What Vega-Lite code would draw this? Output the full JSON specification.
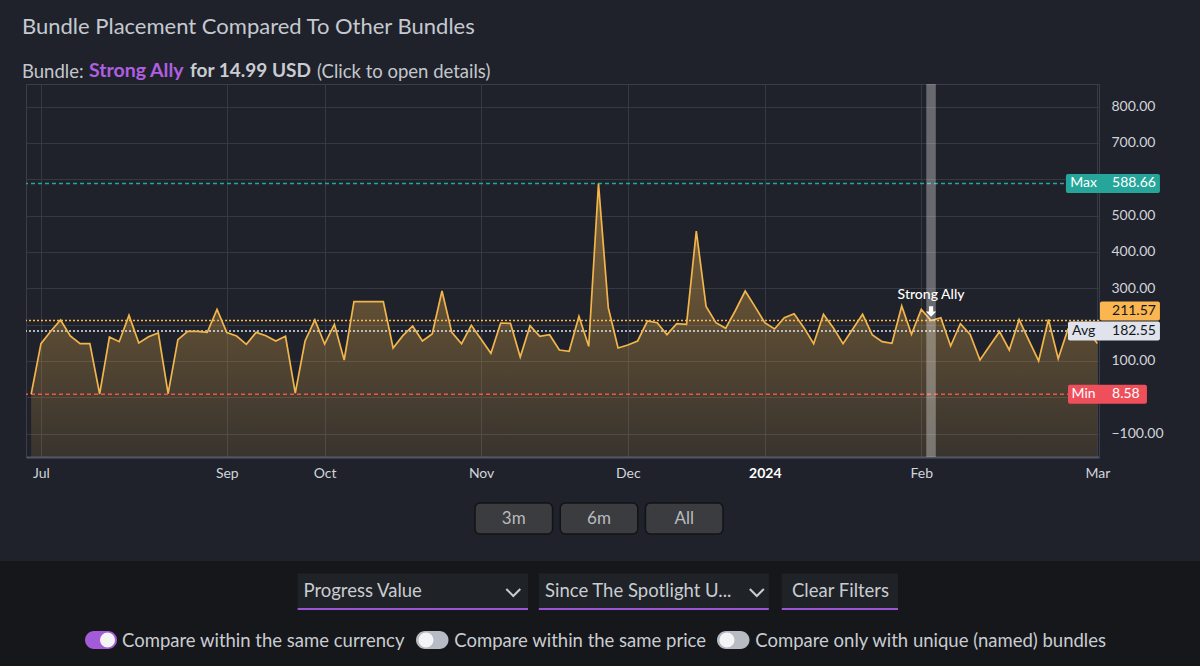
{
  "$schema": "https://vega.github.io/schema/vega-lite/v6.json",
  "background": "#1f222a",
  "padding": {"top": 15, "left": 0, "right": 0, "bottom": 0},
  "spacing": 0,
  "title": {"text": "Bundle Placement Compared To Other Bundles", "anchor": "start", "frame": "bounds", "dx": 22, "fontSize": 22, "fontWeight": "normal", "color": "#c5c9d0", "font": "Lato", "offset": 22},
  "config": {
    "font": "Lato",
    "view": {"stroke": null},
    "axis": {"labelFont": "Lato"},
    "text": {"font": "Lato"}
  },
  "datasets": {
    "series": [
      {"i":0,"v":8.58},{"i":1,"v":147.6},{"i":2,"v":182},{"i":3,"v":212.8},{"i":4,"v":168.7},{"i":5,"v":147.6},{"i":6,"v":147.6},{"i":7,"v":9.2},{"i":8,"v":166},{"i":9,"v":153.1},
      {"i":10,"v":225.6},{"i":11,"v":149.5},{"i":12,"v":166.9},{"i":13,"v":177},{"i":14,"v":10.1},{"i":15,"v":158.6},{"i":16,"v":181.6},{"i":17,"v":181.6},{"i":18,"v":178.8},{"i":19,"v":242.1},
      {"i":20,"v":177.9},{"i":21,"v":168.7},{"i":22,"v":145.8},{"i":23,"v":178.8},{"i":24,"v":169.7},{"i":25,"v":155},{"i":26,"v":167.8},{"i":27,"v":11.5},{"i":28,"v":155},{"i":29,"v":212.8},
      {"i":30,"v":146.7},{"i":31,"v":200.9},{"i":32,"v":102.7},{"i":33,"v":263.2},{"i":34,"v":263.2},{"i":35,"v":263.2},{"i":36,"v":263.2},{"i":37,"v":135.7},{"i":38,"v":169.7},{"i":39,"v":196.3},
      {"i":40,"v":155},{"i":41,"v":174.3},{"i":42,"v":292.6},{"i":43,"v":178.8},{"i":44,"v":147.6},{"i":45,"v":198.1},{"i":46,"v":160},{"i":47,"v":121},{"i":48,"v":204.5},{"i":49,"v":203.6},
      {"i":50,"v":110.9},{"i":51,"v":197.2},{"i":52,"v":167.8},{"i":53,"v":172.4},{"i":54,"v":130.2},{"i":55,"v":126.5},{"i":56,"v":222.9},{"i":57,"v":140.3},{"i":58,"v":588.66},{"i":59,"v":246.7},
      {"i":60,"v":135.7},{"i":61,"v":144},{"i":62,"v":155},{"i":63,"v":210},{"i":64,"v":205.4},{"i":65,"v":172.4},{"i":66,"v":202.7},{"i":67,"v":200.9},{"i":68,"v":457.7},{"i":69,"v":250},
      {"i":70,"v":205.4},{"i":71,"v":189.9},{"i":72,"v":239},{"i":73,"v":292.6},{"i":74,"v":249.5},{"i":75,"v":205.4},{"i":76,"v":188},{"i":77,"v":219.2},{"i":78,"v":230.2},{"i":79,"v":191.7},
      {"i":80,"v":147.6},{"i":81,"v":228.4},{"i":82,"v":191.7},{"i":83,"v":147.6},{"i":84,"v":188},{"i":85,"v":228.4},{"i":86,"v":171.5},{"i":87,"v":153.1},{"i":88,"v":148.5},{"i":89,"v":251.3},
      {"i":90,"v":173.3},{"i":91,"v":242.1},{"i":92,"v":211.57},{"i":93,"v":219.2},{"i":94,"v":141.2},{"i":95,"v":202.7},{"i":96,"v":173.3},{"i":97,"v":102.7},{"i":98,"v":142.1},{"i":99,"v":180.7},
      {"i":100,"v":130.2},{"i":101,"v":213.7},{"i":102,"v":156.8},{"i":103,"v":100},{"i":104,"v":214},{"i":105,"v":106},{"i":106,"v":188},{"i":107,"v":195},{"i":108,"v":185},{"i":109,"v":148}
    ],
    "pl": [
      {"label": "Max", "value": 588.66},
      {"label": "Avg", "value": 182.55},
      {"label": "Min", "value": 8.58},
      {"label": "Strong Ally", "value": 211.57}
    ],
    "marker": [{"i": 92, "v": 211.57, "name": "Strong Ally"}],
    "buttons": [{"b": "3m"}, {"b": "6m"}, {"b": "All"}]
  },
  "vconcat": [
    {
      "spacing": 5,
      "hconcat": [
        {"width": 17, "height": 0, "data": {"values": []}, "mark": "text"},
        {"width": 0, "height": 0, "data": {"values": []}, "mark": "text",
         "title": {"text": "Bundle:", "anchor": "start", "fontSize": 18.5, "fontWeight": "normal", "color": "#c3c7cd", "font": "Lato", "offset": -18}},
        {"width": 0, "height": 0, "data": {"values": []}, "mark": "text",
         "title": {"text": "Strong Ally", "anchor": "start", "fontSize": 19.5, "fontWeight": "bold", "color": "#b05fe0", "font": "Lato", "offset": -18}},
        {"width": 0, "height": 0, "data": {"values": []}, "mark": "text",
         "title": {"text": "for 14.99 USD", "anchor": "start", "fontSize": 19, "fontWeight": "bold", "color": "#c9ccd2", "font": "Lato", "offset": -18}},
        {"width": 0, "height": 0, "data": {"values": []}, "mark": "text",
         "title": {"text": "(Click to open details)", "anchor": "start", "fontSize": 18.5, "fontWeight": "normal", "color": "#c3c7cd", "font": "Lato", "offset": -18}}
      ]
    },
    {
      "spacing": 0,
      "hconcat": [
        {"width": 24, "height": 0, "data": {"values": []}, "mark": "text"},
        {
          "width": 1073,
          "height": 373,
          "view": {"stroke": "#3a3e49"},
          "layer": [
            {
              "data": {"name": "series"},
              "mark": {"type": "area", "color": {"gradient": "linear", "x1": 0, "y1": 0, "x2": 0, "y2": 1, "stops": [{"offset": 0, "color": "rgba(240,178,74,0.46)"}, {"offset": 1, "color": "rgba(240,178,74,0.12)"}]}},
              "encoding": {
                "x": {"field": "i", "type": "quantitative", "scale": {"domain": [-0.53, 109.17], "nice": false, "zero": false},
                  "axis": {"title": null, "values": [1, 20, 30, 46, 61, 75, 91, 109],
                    "labelExpr": "datum.value == 1 ? 'Jul' : datum.value == 20 ? 'Sep' : datum.value == 30 ? 'Oct' : datum.value == 46 ? 'Nov' : datum.value == 61 ? 'Dec' : datum.value == 75 ? '2024' : datum.value == 91 ? 'Feb' : 'Mar'",
                    "grid": true, "gridColor": "#353942", "domain": true, "domainColor": "#50546b", "domainWidth": 2, "ticks": false,
                    "labelPadding": 9, "labelFontSize": 14, "labelFlush": false, "labelOverlap": false,
                    "labelColor": {"condition": {"test": "datum.value == 75", "value": "#ffffff"}, "value": "#d1d4dc"},
                    "labelFontWeight": {"condition": {"test": "datum.value == 75", "value": "bold"}, "value": "normal"},
                    "minExtent": 44, "maxExtent": 44}},
                "y": {"field": "v", "type": "quantitative", "scale": {"domain": [-164.3, 862.4], "nice": false, "zero": false},
                  "axis": {"title": null, "orient": "right", "values": [-100, 0, 100, 200, 300, 400, 500, 600, 700, 800],
                    "labelExpr": "datum.value == 600 || datum.value == 200 || datum.value == 0 ? '' : format(datum.value, '.2f')",
                    "grid": true, "gridColor": "#353942", "domain": false, "ticks": false, "labelPadding": 12,
                    "labelFontSize": 14, "labelColor": "#d1d4dc", "labelAlign": "left", "labelOverlap": false}},
                "y2": {"datum": -164.3}
              }
            },
            {
              "data": {"name": "pl"},
              "mark": {"type": "rule", "strokeWidth": 1.6},
              "encoding": {
                "y": {"field": "value", "type": "quantitative", "scale": {"domain": [-164.3, 862.4], "nice": false, "zero": false}},
                "color": {"field": "label", "type": "nominal", "legend": null, "scale": {"domain": ["Max", "Avg", "Min", "Strong Ally"], "range": ["#26a69a", "#e0e3eb", "#ef5350", "#ffb74d"]}},
                "strokeDash": {"field": "label", "type": "nominal", "legend": null, "scale": {"domain": ["Max", "Avg", "Min", "Strong Ally"], "range": [[4, 3], [2, 2], [4, 3], [2, 2]]}}
              }
            },
            {
              "data": {"name": "series"},
              "mark": {"type": "line", "color": "#f2b54c", "strokeWidth": 1.7},
              "encoding": {
                "x": {"field": "i", "type": "quantitative", "scale": {"domain": [-0.53, 109.17], "nice": false, "zero": false}},
                "y": {"field": "v", "type": "quantitative", "scale": {"domain": [-164.3, 862.4], "nice": false, "zero": false}}
              }
            },
            {
              "data": {"name": "marker"},
              "mark": {"type": "rect", "width": 9.5, "color": "#ffffff", "opacity": 0.32},
              "encoding": {
                "x": {"field": "i", "type": "quantitative", "scale": {"domain": [-0.53, 109.17], "nice": false, "zero": false}}
              }
            },
            {
              "data": {"name": "marker"},
              "mark": {"type": "point", "shape": "M-0.4,-1H0.4V0H1L0,1L-1,0H-0.4Z", "filled": true, "color": "#ffffff", "opacity": 1, "size": 110, "yOffset": -9},
              "encoding": {
                "x": {"field": "i", "type": "quantitative", "scale": {"domain": [-0.53, 109.17], "nice": false, "zero": false}},
                "y": {"field": "v", "type": "quantitative", "scale": {"domain": [-164.3, 862.4], "nice": false, "zero": false}}
              }
            },
            {
              "data": {"name": "marker"},
              "mark": {"type": "text", "color": "#ffffff", "fontSize": 14, "fontWeight": 500, "baseline": "alphabetic", "dy": -21},
              "encoding": {
                "x": {"field": "i", "type": "quantitative", "scale": {"domain": [-0.53, 109.17], "nice": false, "zero": false}},
                "y": {"field": "v", "type": "quantitative", "scale": {"domain": [-164.3, 862.4], "nice": false, "zero": false}},
                "text": {"field": "name"}
              }
            },
            {
              "data": {"name": "pl"},
              "transform": [{"filter": "datum.label == 'Max'"}],
              "mark": {"type": "rect", "height": 19, "color": "#26a69a", "cornerRadius": 2},
              "encoding": {
                "x": {"datum": 105.79, "type": "quantitative", "scale": {"domain": [-0.53, 109.17], "nice": false, "zero": false}},
                "x2": {"datum": 115.4},
                "y": {"field": "value", "type": "quantitative", "scale": {"domain": [-164.3, 862.4], "nice": false, "zero": false}}
              }
            },
            {
              "data": {"name": "pl"},
              "transform": [{"filter": "datum.label == 'Avg'"}],
              "mark": {"type": "rect", "height": 19, "color": "#e0e3eb", "cornerRadius": 2},
              "encoding": {
                "x": {"datum": 106.0, "type": "quantitative", "scale": {"domain": [-0.53, 109.17], "nice": false, "zero": false}},
                "x2": {"datum": 115.4},
                "y": {"field": "value", "type": "quantitative", "scale": {"domain": [-164.3, 862.4], "nice": false, "zero": false}}
              }
            },
            {
              "data": {"name": "pl"},
              "transform": [{"filter": "datum.label == 'Min'"}],
              "mark": {"type": "rect", "height": 19, "color": "#ef4f5b", "cornerRadius": 2},
              "encoding": {
                "x": {"datum": 106.0, "type": "quantitative", "scale": {"domain": [-0.53, 109.17], "nice": false, "zero": false}},
                "x2": {"datum": 114.07},
                "y": {"field": "value", "type": "quantitative", "scale": {"domain": [-164.3, 862.4], "nice": false, "zero": false}}
              }
            },
            {
              "data": {"name": "pl"},
              "transform": [{"filter": "datum.label == 'Strong Ally'"}],
              "mark": {"type": "rect", "height": 19, "color": "#fbb64f", "cornerRadius": 2, "yOffset": -9.5},
              "encoding": {
                "x": {"datum": 109.27, "type": "quantitative", "scale": {"domain": [-0.53, 109.17], "nice": false, "zero": false}},
                "x2": {"datum": 115.4},
                "y": {"field": "value", "type": "quantitative", "scale": {"domain": [-164.3, 862.4], "nice": false, "zero": false}}
              }
            },
            {
              "data": {"name": "pl"},
              "transform": [{"filter": "datum.label != 'Strong Ally'"}],
              "mark": {"type": "text", "fontSize": 14, "align": "center", "baseline": "middle"},
              "encoding": {
                "x": {"datum": 107.6, "type": "quantitative", "scale": {"domain": [-0.53, 109.17], "nice": false, "zero": false}},
                "y": {"field": "value", "type": "quantitative", "scale": {"domain": [-164.3, 862.4], "nice": false, "zero": false}},
                "text": {"field": "label"},
                "color": {"condition": {"test": "datum.label == 'Avg'", "value": "#131722"}, "value": "#ffffff"}
              }
            },
            {
              "data": {"name": "pl"},
              "transform": [{"filter": "datum.label != 'Strong Ally'"}],
              "mark": {"type": "text", "fontSize": 14, "align": "left", "baseline": "middle"},
              "encoding": {
                "x": {"datum": 110.5, "type": "quantitative", "scale": {"domain": [-0.53, 109.17], "nice": false, "zero": false}},
                "y": {"field": "value", "type": "quantitative", "scale": {"domain": [-164.3, 862.4], "nice": false, "zero": false}},
                "text": {"field": "value", "format": ".2f"},
                "color": {"condition": {"test": "datum.label == 'Avg'", "value": "#131722"}, "value": "#ffffff"}
              }
            },
            {
              "data": {"name": "pl"},
              "transform": [{"filter": "datum.label == 'Strong Ally'"}],
              "mark": {"type": "text", "fontSize": 14, "align": "left", "baseline": "middle", "dy": -9.5, "color": "#131722"},
              "encoding": {
                "x": {"datum": 110.5, "type": "quantitative", "scale": {"domain": [-0.53, 109.17], "nice": false, "zero": false}},
                "y": {"field": "value", "type": "quantitative", "scale": {"domain": [-164.3, 862.4], "nice": false, "zero": false}},
                "text": {"field": "value", "format": ".2f"}
              }
            }
          ]
        }
      ]
    },
    {
      "spacing": 0,
      "hconcat": [
        {"width": 473.75, "height": 0, "data": {"values": []}, "mark": "text"},
        {
          "width": 248,
          "height": 31,
          "data": {"name": "buttons"},
          "encoding": {
            "x": {"field": "b", "type": "nominal", "sort": null, "scale": {"type": "band", "paddingInner": 0.09, "paddingOuter": 0},
              "axis": {"title": null, "labels": false, "ticks": false, "domain": false, "grid": false, "minExtent": 27, "maxExtent": 27}}
          },
          "layer": [
            {"mark": {"type": "rect", "cornerRadius": 5, "fill": "#3b3c40", "stroke": "#121316", "strokeWidth": 1.5}},
            {"mark": {"type": "text", "fontSize": 17, "color": "#b9bbbf"}, "encoding": {"text": {"field": "b"}}}
          ]
        }
      ]
    },
    {
      "width": 1200,
      "height": 108,
      "view": {"fill": "#15171b", "stroke": null},
      "layer": [
        {"data": {"values": [{}]}, "mark": {"type": "rect", "color": "#1f2227"},
         "encoding": {"x": {"datum": 297.6, "type": "quantitative", "scale": {"domain": [0, 1200], "nice": false, "zero": false}, "axis": null}, "x2": {"datum": 528},
                      "y": {"datum": 12.5, "type": "quantitative", "scale": {"domain": [0, 108], "nice": false, "zero": false, "reverse": true}, "axis": null}, "y2": {"datum": 48.5}}},
        {"data": {"values": [{}]}, "mark": {"type": "rect", "color": "#1f2227"},
         "encoding": {"x": {"datum": 538.8, "type": "quantitative", "scale": {"domain": [0, 1200], "nice": false, "zero": false}, "axis": null}, "x2": {"datum": 768.8},
                      "y": {"datum": 12.5, "type": "quantitative", "scale": {"domain": [0, 108], "nice": false, "zero": false, "reverse": true}, "axis": null}, "y2": {"datum": 48.5}}},
        {"data": {"values": [{}]}, "mark": {"type": "rect", "color": "#1f2227"},
         "encoding": {"x": {"datum": 781.8, "type": "quantitative", "scale": {"domain": [0, 1200], "nice": false, "zero": false}, "axis": null}, "x2": {"datum": 898},
                      "y": {"datum": 12.5, "type": "quantitative", "scale": {"domain": [0, 108], "nice": false, "zero": false, "reverse": true}, "axis": null}, "y2": {"datum": 48.5}}},
        {"data": {"values": [{}]}, "mark": {"type": "rect", "color": "#9b55d4"},
         "encoding": {"x": {"datum": 297.6, "type": "quantitative", "scale": {"domain": [0, 1200], "nice": false, "zero": false}, "axis": null}, "x2": {"datum": 528},
                      "y": {"datum": 47, "type": "quantitative", "scale": {"domain": [0, 108], "nice": false, "zero": false, "reverse": true}, "axis": null}, "y2": {"datum": 49}}},
        {"data": {"values": [{}]}, "mark": {"type": "rect", "color": "#9b55d4"},
         "encoding": {"x": {"datum": 538.8, "type": "quantitative", "scale": {"domain": [0, 1200], "nice": false, "zero": false}, "axis": null}, "x2": {"datum": 768.8},
                      "y": {"datum": 47, "type": "quantitative", "scale": {"domain": [0, 108], "nice": false, "zero": false, "reverse": true}, "axis": null}, "y2": {"datum": 49}}},
        {"data": {"values": [{}]}, "mark": {"type": "rect", "color": "#9b55d4"},
         "encoding": {"x": {"datum": 781.8, "type": "quantitative", "scale": {"domain": [0, 1200], "nice": false, "zero": false}, "axis": null}, "x2": {"datum": 898},
                      "y": {"datum": 47, "type": "quantitative", "scale": {"domain": [0, 108], "nice": false, "zero": false, "reverse": true}, "axis": null}, "y2": {"datum": 49}}},
        {"data": {"values": [{"label": "Progress Value"}]}, "mark": {"type": "text", "align": "left", "baseline": "alphabetic", "fontSize": 18.5, "color": "#c9ccd1"},
         "encoding": {"x": {"datum": 303.5, "type": "quantitative", "scale": {"domain": [0, 1200], "nice": false, "zero": false}, "axis": null},
                      "y": {"datum": 36, "type": "quantitative", "scale": {"domain": [0, 108], "nice": false, "zero": false, "reverse": true}, "axis": null}, "text": {"field": "label"}}},
        {"data": {"values": [{"label": "Since The Spotlight U..."}]}, "mark": {"type": "text", "align": "left", "baseline": "alphabetic", "fontSize": 18.5, "color": "#c9ccd1"},
         "encoding": {"x": {"datum": 545, "type": "quantitative", "scale": {"domain": [0, 1200], "nice": false, "zero": false}, "axis": null},
                      "y": {"datum": 36, "type": "quantitative", "scale": {"domain": [0, 108], "nice": false, "zero": false, "reverse": true}, "axis": null}, "text": {"field": "label"}}},
        {"data": {"values": [{"label": "Clear Filters"}]}, "mark": {"type": "text", "align": "left", "baseline": "alphabetic", "fontSize": 18.5, "color": "#c9ccd1"},
         "encoding": {"x": {"datum": 792, "type": "quantitative", "scale": {"domain": [0, 1200], "nice": false, "zero": false}, "axis": null},
                      "y": {"datum": 36, "type": "quantitative", "scale": {"domain": [0, 108], "nice": false, "zero": false, "reverse": true}, "axis": null}, "text": {"field": "label"}}},
        {"data": {"values": [{}]}, "mark": {"type": "point", "shape": "M-1,-0.5L0,0.5L1,-0.5", "filled": false, "color": "#c9ccd1", "strokeWidth": 2, "opacity": 1, "size": 196},
         "encoding": {"x": {"datum": 513.3, "type": "quantitative", "scale": {"domain": [0, 1200], "nice": false, "zero": false}, "axis": null},
                      "y": {"datum": 31.5, "type": "quantitative", "scale": {"domain": [0, 108], "nice": false, "zero": false, "reverse": true}, "axis": null}}},
        {"data": {"values": [{}]}, "mark": {"type": "point", "shape": "M-1,-0.5L0,0.5L1,-0.5", "filled": false, "color": "#c9ccd1", "strokeWidth": 2, "opacity": 1, "size": 196},
         "encoding": {"x": {"datum": 756.8, "type": "quantitative", "scale": {"domain": [0, 1200], "nice": false, "zero": false}, "axis": null},
                      "y": {"datum": 31.5, "type": "quantitative", "scale": {"domain": [0, 108], "nice": false, "zero": false, "reverse": true}, "axis": null}}},
        {"data": {"values": [{}]}, "mark": {"type": "rect", "color": "#a35bd8", "cornerRadius": 9},
         "encoding": {"x": {"datum": 85, "type": "quantitative", "scale": {"domain": [0, 1200], "nice": false, "zero": false}, "axis": null}, "x2": {"datum": 117},
                      "y": {"datum": 70, "type": "quantitative", "scale": {"domain": [0, 108], "nice": false, "zero": false, "reverse": true}, "axis": null}, "y2": {"datum": 88}}},
        {"data": {"values": [{}]}, "mark": {"type": "rect", "color": "#b6bbc4", "cornerRadius": 9},
         "encoding": {"x": {"datum": 416, "type": "quantitative", "scale": {"domain": [0, 1200], "nice": false, "zero": false}, "axis": null}, "x2": {"datum": 448.5},
                      "y": {"datum": 70, "type": "quantitative", "scale": {"domain": [0, 108], "nice": false, "zero": false, "reverse": true}, "axis": null}, "y2": {"datum": 88}}},
        {"data": {"values": [{}]}, "mark": {"type": "rect", "color": "#b6bbc4", "cornerRadius": 9},
         "encoding": {"x": {"datum": 717, "type": "quantitative", "scale": {"domain": [0, 1200], "nice": false, "zero": false}, "axis": null}, "x2": {"datum": 749.5},
                      "y": {"datum": 70, "type": "quantitative", "scale": {"domain": [0, 108], "nice": false, "zero": false, "reverse": true}, "axis": null}, "y2": {"datum": 88}}},
        {"data": {"values": [{}]}, "mark": {"type": "circle", "color": "#f4f4f6", "opacity": 1, "size": 227},
         "encoding": {"x": {"datum": 107.5, "type": "quantitative", "scale": {"domain": [0, 1200], "nice": false, "zero": false}, "axis": null},
                      "y": {"datum": 79, "type": "quantitative", "scale": {"domain": [0, 108], "nice": false, "zero": false, "reverse": true}, "axis": null}}},
        {"data": {"values": [{}]}, "mark": {"type": "circle", "color": "#f4f4f6", "opacity": 1, "size": 227},
         "encoding": {"x": {"datum": 426, "type": "quantitative", "scale": {"domain": [0, 1200], "nice": false, "zero": false}, "axis": null},
                      "y": {"datum": 79, "type": "quantitative", "scale": {"domain": [0, 108], "nice": false, "zero": false, "reverse": true}, "axis": null}}},
        {"data": {"values": [{}]}, "mark": {"type": "circle", "color": "#f4f4f6", "opacity": 1, "size": 227},
         "encoding": {"x": {"datum": 727, "type": "quantitative", "scale": {"domain": [0, 1200], "nice": false, "zero": false}, "axis": null},
                      "y": {"datum": 79, "type": "quantitative", "scale": {"domain": [0, 108], "nice": false, "zero": false, "reverse": true}, "axis": null}}},
        {"data": {"values": [{"label": "Compare within the same currency"}]}, "mark": {"type": "text", "align": "left", "baseline": "alphabetic", "fontSize": 18.5, "color": "#c9ccd1"},
         "encoding": {"x": {"datum": 122, "type": "quantitative", "scale": {"domain": [0, 1200], "nice": false, "zero": false}, "axis": null},
                      "y": {"datum": 85.5, "type": "quantitative", "scale": {"domain": [0, 108], "nice": false, "zero": false, "reverse": true}, "axis": null}, "text": {"field": "label"}}},
        {"data": {"values": [{"label": "Compare within the same price"}]}, "mark": {"type": "text", "align": "left", "baseline": "alphabetic", "fontSize": 18.5, "color": "#c9ccd1"},
         "encoding": {"x": {"datum": 454.3, "type": "quantitative", "scale": {"domain": [0, 1200], "nice": false, "zero": false}, "axis": null},
                      "y": {"datum": 85.5, "type": "quantitative", "scale": {"domain": [0, 108], "nice": false, "zero": false, "reverse": true}, "axis": null}, "text": {"field": "label"}}},
        {"data": {"values": [{"label": "Compare only with unique (named) bundles"}]}, "mark": {"type": "text", "align": "left", "baseline": "alphabetic", "fontSize": 18.5, "color": "#c9ccd1"},
         "encoding": {"x": {"datum": 755.3, "type": "quantitative", "scale": {"domain": [0, 1200], "nice": false, "zero": false}, "axis": null},
                      "y": {"datum": 85.5, "type": "quantitative", "scale": {"domain": [0, 108], "nice": false, "zero": false, "reverse": true}, "axis": null}, "text": {"field": "label"}}}
      ]
    }
  ]
}
